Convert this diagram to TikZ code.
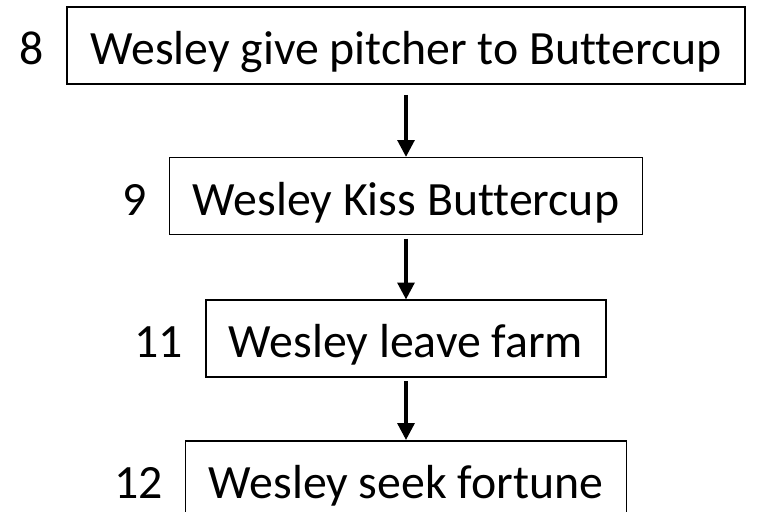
\documentclass[tikz,border=0pt]{standalone}
\usepackage{fontspec}
\setmainfont{Carlito}[Ligatures=NoCommon]
\usetikzlibrary{positioning,arrows.meta}
\begin{document}
\begin{tikzpicture}[
  event/.style={draw, line width=1.1pt, minimum height=1.925cm, inner xsep=0.58cm,
    text height=1.05cm, text depth=0.1cm, font=\fontsize{34}{40}\selectfont},
  num/.style={inner sep=0pt, font=\fontsize{34}{40}\selectfont},
  link/.style={-{Triangle[length=0.42cm,width=0.42cm]}, line width=2.4pt}]
\useasboundingbox (0,0) rectangle (19,-12.775);
\node[event] (e8) at (10.15,-1.14) {Wesley give pitcher to Buttercup};
\node[event, below=1.8cm of e8] (e9) {Wesley Kiss Buttercup};
\node[event, below=1.6cm of e9] (e11) {Wesley leave farm};
\node[event, below=1.55cm of e11] (e12) {Wesley seek fortune};
\foreach \n in {8,9,11,12}
  \node[num, left=0.55cm of e\n.base west, anchor=base east] (n\n) {\n};
\draw[link, shorten <=0.25cm] (e8) -- (e9);
\draw[link, shorten <=0.08cm] (e9) -- (e11);
\draw[link, shorten <=0.08cm] (e11) -- (e12);
\end{tikzpicture}
\end{document}
